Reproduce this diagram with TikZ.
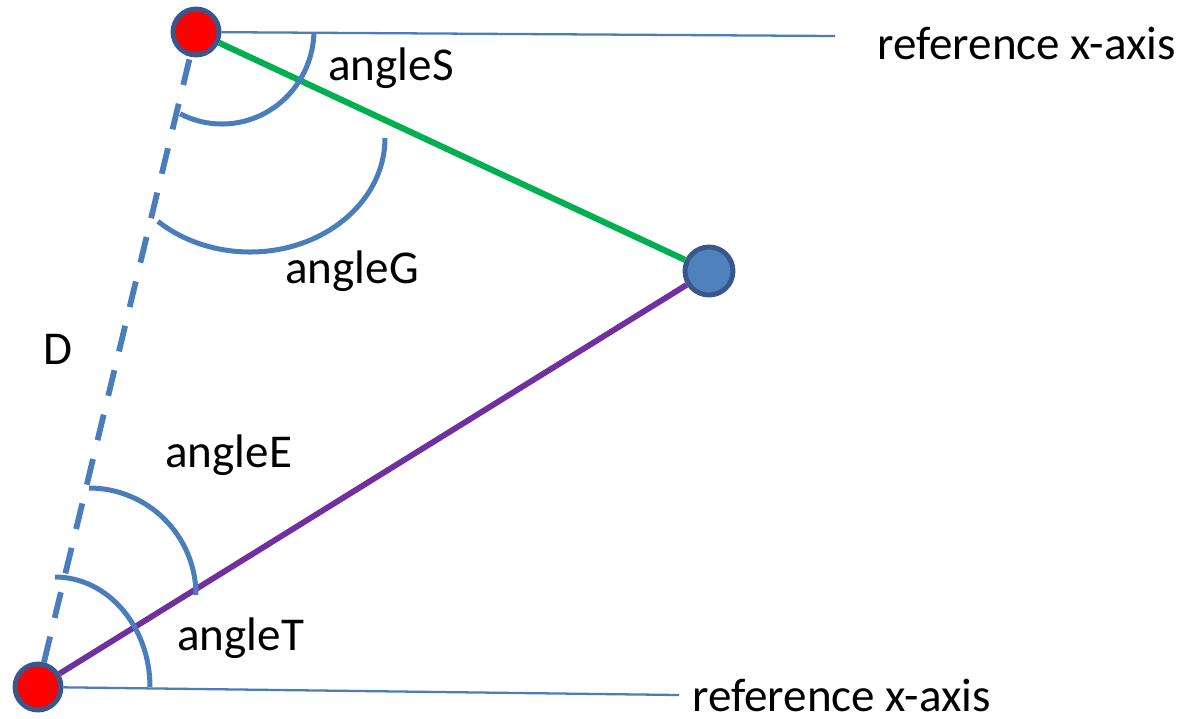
\documentclass[tikz,border=0pt]{standalone}
\usepackage{fontspec}
\setmainfont{Carlito}
\usepackage{tikz}
\definecolor{arcblue}{RGB}{74,126,187}
\definecolor{rimblue}{RGB}{56,87,140}
\definecolor{dotblue}{RGB}{79,129,189}
\definecolor{linegreen}{RGB}{0,176,80}
\definecolor{linepurple}{RGB}{112,48,160}

\begin{document}
\begin{tikzpicture}[x=0.02cm,y=-0.02cm,
	reddot/.style={circle,fill=red,draw=rimblue,line width=2.8pt,minimum size=0.92cm,inner sep=0pt},
	bluedot/.style={circle,fill=dotblue,draw=rimblue,line width=2.8pt,minimum size=0.96cm,inner sep=0pt},
	anglearc/.style={draw=arcblue,line width=2.85pt},
	axisline/.style={draw=arcblue,line width=1.3pt},
	txt/.style={anchor=base west,inner sep=0pt,font=\fontsize{26.8}{32}\selectfont}]
					\useasboundingbox (0,0) rectangle (1192,718);
					\node[reddot] (top) at (196,32) {};
					\node[reddot] (bot) at (38,687) {};
					\node[bluedot] (tip) at (709,271) {};
					\coordinate (topx) at (835,36);
					\coordinate (botx) at (679,695);
					\draw[axisline] (top) -- (topx);
					\draw[axisline] (bot) -- (botx);
					\draw[arcblue,line width=3.3pt,dash pattern=on 15pt off 11pt] (bot) -- (top);
					\draw[linegreen,line width=3.5pt] (top) -- (tip);
					\draw[linepurple,line width=3.3pt] (bot) -- (tip);
					\draw[anglearc] (313.9,33.3) arc[start angle=2,end angle=117,x radius=92,y radius=94];
					\draw[anglearc] (385,138) arc[start angle=0,end angle=133,x radius=135,y radius=114];
					\draw[anglearc] (89,488) arc[start angle=-90,end angle=0,x radius=107,y radius=107];
					\draw[anglearc] (55,577) arc[start angle=-90,end angle=0,x radius=95,y radius=110];
					\node[txt] (lblS) at (328,80) {angleS};
					\node[txt] (lblG) at (285,283) {angleG};
					\node[txt] (lblD) at (43,364) {D};
					\node[txt] (lblE) at (165,467) {angleE};
					\node[txt] (lblT) at (177,650) {angleT};
					\node[txt] (axtop) at (877,59) {reference x-axis};
					\node[txt] (axbot) at (692,711) {reference x-axis};
				\end{tikzpicture}
\end{document}
